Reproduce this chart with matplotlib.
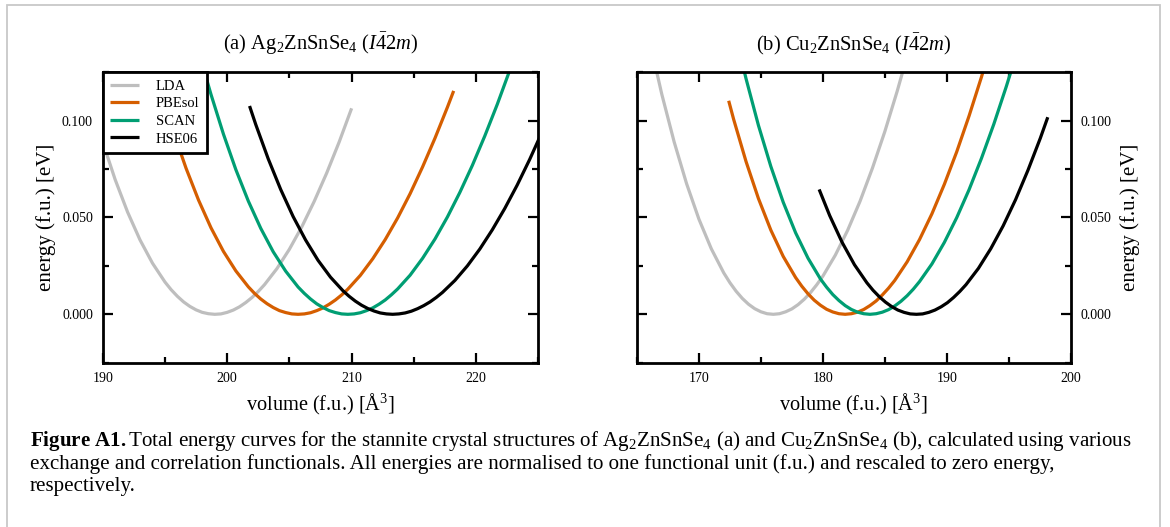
import matplotlib
matplotlib.use('Agg')
import matplotlib.pyplot as plt
from matplotlib.ticker import MultipleLocator, FormatStrFormatter
from matplotlib.patches import Rectangle

plt.rcParams['font.family'] = ['Liberation Serif', 'DejaVu Serif']
plt.rcParams['mathtext.fontset'] = 'custom'
plt.rcParams['mathtext.rm'] = 'Liberation Serif'
plt.rcParams['mathtext.it'] = 'Liberation Serif:italic'
plt.rcParams['mathtext.bf'] = 'Liberation Serif:bold'

# ---------------- data ----------------
functionals = ['LDA', 'PBEsol', 'SCAN', 'HSE06']
colors = ['#bebebe', '#d55e00', '#009e73', '#000000']

# panel (a) Ag2ZnSnSe4
lda_a_V = [188, 189, 190, 191, 192, 193, 194, 195, 195.5, 196, 196.5, 197, 197.5, 198, 198.5, 199,
           199.5, 200, 200.5, 201, 201.5, 202, 202.5, 203, 204, 205, 206, 207, 208, 209, 210]
lda_a_E = [0.1356, 0.1110, 0.0890, 0.0696, 0.0528, 0.0384, 0.0264, 0.0167, 0.0127, 0.0093, 0.0064,
           0.0041, 0.0023, 0.0010, 0.0003, 0.0, 0.0002, 0.0010, 0.0022, 0.0039, 0.0061, 0.0087, 0.0118,
           0.0153, 0.0236, 0.0336, 0.0452, 0.0584, 0.0730, 0.0890, 0.1064]
pbesol_a_V = [193.7, 194.7, 195.7, 196.7, 197.7, 198.7, 199.7, 200.7, 201.7, 202.2, 202.7, 203.2, 203.7,
              204.2, 204.7, 205.2, 205.7, 206.2, 206.7, 207.2, 207.7, 208.2, 208.7, 209.2, 209.7, 210.7,
              211.7, 212.7, 213.7, 214.7, 215.7, 216.7, 217.7, 218.2]
pbesol_a_E = [0.1378, 0.1147, 0.0939, 0.0754, 0.0590, 0.0447, 0.0325, 0.0224, 0.0142, 0.0108, 0.0079,
              0.0055, 0.0035, 0.0019, 0.0009, 0.0002, 0.0, 0.0002, 0.0008, 0.0019, 0.0033, 0.0052, 0.0074,
              0.0100, 0.0130, 0.0201, 0.0287, 0.0386, 0.0498, 0.0623, 0.0761, 0.0910, 0.1070, 0.1154]
scan_a_V = [198.2, 198.7, 199.7, 200.7, 201.7, 202.7, 203.7, 204.7, 205.7, 206.2, 206.7, 207.2, 207.7,
            208.2, 208.7, 209.2, 209.7, 210.2, 210.7, 211.2, 211.7, 212.2, 212.7, 213.2, 213.7, 214.7,
            215.7, 216.7, 217.7, 218.7, 219.7, 220.7, 221.7, 222.7, 223.2]
scan_a_E = [0.1247, 0.1136, 0.0931, 0.0747, 0.0585, 0.0444, 0.0323, 0.0223, 0.0141, 0.0108, 0.0079,
            0.0054, 0.0035, 0.0019, 0.0009, 0.0002, 0.0, 0.0002, 0.0008, 0.0019, 0.0033, 0.0052, 0.0074,
            0.0101, 0.0131, 0.0202, 0.0289, 0.0389, 0.0503, 0.0630, 0.0769, 0.0921, 0.1084, 0.1259, 0.1350]
hse_a_V = [201.8, 202.3, 203.3, 204.3, 205.3, 206.3, 207.3, 208.3, 209.3, 209.8, 210.3, 210.8, 211.3,
           211.8, 212.3, 212.8, 213.3, 213.8, 214.3, 214.8, 215.3, 215.8, 216.3, 216.8, 217.3, 218.3,
           219.3, 220.3, 221.3, 222.3, 223.3, 224.3, 225.3, 226.0]
hse_a_E = [0.1076, 0.0980, 0.0803, 0.0645, 0.0505, 0.0384, 0.0279, 0.0192, 0.0122, 0.0093, 0.0068,
           0.0047, 0.0030, 0.0017, 0.0007, 0.0002, 0.0, 0.0002, 0.0007, 0.0016, 0.0029, 0.0045, 0.0064,
           0.0087, 0.0113, 0.0175, 0.0250, 0.0337, 0.0436, 0.0546, 0.0667, 0.0799, 0.0941, 0.1046]

# panel (b) Cu2ZnSnSe4
lda_b_V = [165.5, 166, 167, 168, 169, 170, 171, 172, 172.5, 173, 173.5, 174, 174.5, 175, 175.5, 176,
           176.5, 177, 177.5, 178, 178.5, 179, 179.5, 180, 181, 182, 183, 184, 185, 186, 187]
lda_b_E = [0.1570, 0.1417, 0.1137, 0.0890, 0.0675, 0.0491, 0.0338, 0.0214, 0.0163, 0.0119, 0.0082,
           0.0052, 0.0029, 0.0013, 0.0003, 0.0, 0.0003, 0.0013, 0.0028, 0.0050, 0.0078, 0.0112, 0.0152,
           0.0197, 0.0305, 0.0434, 0.0584, 0.0755, 0.0944, 0.1153, 0.1379]
pbesol_b_V = [172.4, 172.8, 173.8, 174.8, 175.8, 176.8, 177.8, 178.3, 178.8, 179.3, 179.8, 180.3, 180.8,
              181.3, 181.8, 182.3, 182.8, 183.3, 183.8, 184.3, 184.8, 185.3, 185.8, 186.8, 187.8, 188.8,
              189.8, 190.8, 191.8, 192.8, 193.5]
pbesol_b_E = [0.1103, 0.1007, 0.0789, 0.0598, 0.0435, 0.0299, 0.0190, 0.0145, 0.0106, 0.0073, 0.0047,
              0.0026, 0.0012, 0.0003, 0.0, 0.0003, 0.0011, 0.0025, 0.0045, 0.0069, 0.0100, 0.0135, 0.0175,
              0.0271, 0.0386, 0.0519, 0.0671, 0.0839, 0.1025, 0.1226, 0.1376]
scan_b_V = [173.3, 173.8, 174.8, 175.8, 176.8, 177.8, 178.8, 179.8, 180.3, 180.8, 181.3, 181.8, 182.3,
            182.8, 183.3, 183.8, 184.3, 184.8, 185.3, 185.8, 186.3, 186.8, 187.3, 187.8, 188.8, 189.8,
            190.8, 191.8, 192.8, 193.8, 194.8, 195.8]
scan_b_E = [0.1348, 0.1217, 0.0976, 0.0764, 0.0579, 0.0421, 0.0290, 0.0183, 0.0140, 0.0102, 0.0071,
            0.0045, 0.0025, 0.0011, 0.0003, 0.0, 0.0003, 0.0011, 0.0024, 0.0043, 0.0067, 0.0096, 0.0130,
            0.0169, 0.0260, 0.0371, 0.0499, 0.0644, 0.0806, 0.0983, 0.1176, 0.1382]
hse_b_V = [179.7, 180.55, 181.55, 182.55, 183.55, 184.05, 184.55, 185.05, 185.55, 186.05, 186.55, 187.05,
           187.55, 188.05, 188.55, 189.05, 189.55, 190.05, 190.55, 191.05, 191.55, 192.55, 193.55, 194.55,
           195.55, 196.55, 197.55, 198.15]
hse_b_E = [0.0645, 0.0510, 0.0372, 0.0256, 0.0163, 0.0124, 0.0091, 0.0063, 0.0040, 0.0022, 0.0010,
           0.0002, 0.0, 0.0002, 0.0010, 0.0022, 0.0039, 0.0060, 0.0087, 0.0118, 0.0153, 0.0237, 0.0339,
           0.0457, 0.0592, 0.0744, 0.0910, 0.1018]

title_a = r"(a) Ag$_2$ZnSnSe$_4$ ($I\bar{4}2m$)"
title_b = r"(b) Cu$_2$ZnSnSe$_4$ ($I\bar{4}2m$)"
xlabel = r"volume (f.u.) [$\mathrm{\AA}^3$]"
ylabel = "energy (f.u.) [eV]"
caption = [
    r"$\mathbf{Figure\ A1.}$Total energy curves for the stannite crystal structures of Ag$_2$ZnSnSe$_4$ (a) and Cu$_2$ZnSnSe$_4$ (b), calculated using various",
    "exchange and correlation functionals. All energies are normalised to one functional unit (f.u.) and rescaled to zero energy,",
    "respectively.",
]

# ---------------- figure ----------------
W, H = 1170, 527
fig = plt.figure(figsize=(W / 100, H / 100), dpi=100)
fig.add_artist(Rectangle((7 / W, -0.05), (1160 - 7) / W, (H - 5) / H + 0.05, transform=fig.transFigure,
                         fill=False, ec='#c8c8c8', lw=1.3, clip_on=False))

axA = fig.add_axes([102.7 / W, 1 - 362.7 / H, 435.6 / W, 290.4 / H])
axB = fig.add_axes([637.0 / W, 1 - 362.7 / H, 433.7 / W, 290.4 / H])

data_a = [(lda_a_V, lda_a_E), (pbesol_a_V, pbesol_a_E), (scan_a_V, scan_a_E), (hse_a_V, hse_a_E)]
data_b = [(lda_b_V, lda_b_E), (pbesol_b_V, pbesol_b_E), (scan_b_V, scan_b_E), (hse_b_V, hse_b_E)]

for ax, data, xlim, title, right in [(axA, data_a, (190, 225), title_a, False),
                                      (axB, data_b, (165, 200), title_b, True)]:
    for (v, e), name, c in zip(data, functionals, colors):
        ax.plot(v, e, color=c, lw=2.3, label=name, solid_capstyle='butt', solid_joinstyle='round')
    ax.set_xlim(*xlim)
    ax.set_ylim(-0.025, 0.125)
    ax.xaxis.set_major_locator(MultipleLocator(10))
    ax.xaxis.set_minor_locator(MultipleLocator(5))
    ax.yaxis.set_major_locator(MultipleLocator(0.05))
    ax.yaxis.set_minor_locator(MultipleLocator(0.025))
    ax.yaxis.set_major_formatter(FormatStrFormatter('%.3f'))
    ax.tick_params(which='both', direction='in', top=True, right=True, left=True, bottom=True,
                   width=1.6, labelsize=10, pad=7)
    ax.tick_params(which='major', length=7.5)
    ax.tick_params(which='minor', length=4)
    for s in ax.spines.values():
        s.set_linewidth(2.0)
    ax.set_title(title, fontsize=14.8, pad=16)
    ax.set_xlabel(xlabel, fontsize=14.7, labelpad=5)
    if right:
        ax.tick_params(axis='y', which='both', labelleft=False, labelright=True)
        ax.yaxis.set_label_position('right')
        ax.set_ylabel(ylabel, fontsize=15, labelpad=6)
    else:
        ax.set_ylabel(ylabel, fontsize=15, labelpad=4)

leg = axA.legend(loc='upper left', borderaxespad=0, fancybox=False, edgecolor='black', framealpha=1,
                 fontsize=10.5, handlelength=2.0, handletextpad=1.15, labelspacing=0.3, borderpad=0.5)
leg.get_frame().set_linewidth(2.0)
for line in leg.get_lines():
    line.set_linewidth(2.3)

# caption, fitted to the reference width
fs = 14
texts = []
ys = [441, 464, 487]
for s, y in zip(caption, ys):
    texts.append(fig.text(30 / W, 1 - y / H, s, fontsize=fs, ha='left', va='center'))
fig.canvas.draw()
r = fig.canvas.get_renderer()
w0 = texts[0].get_window_extent(renderer=r).width
scale = 1108 / w0
for t in texts:
    t.set_fontsize(fs * scale)

fig.savefig('out.png', dpi=100)
